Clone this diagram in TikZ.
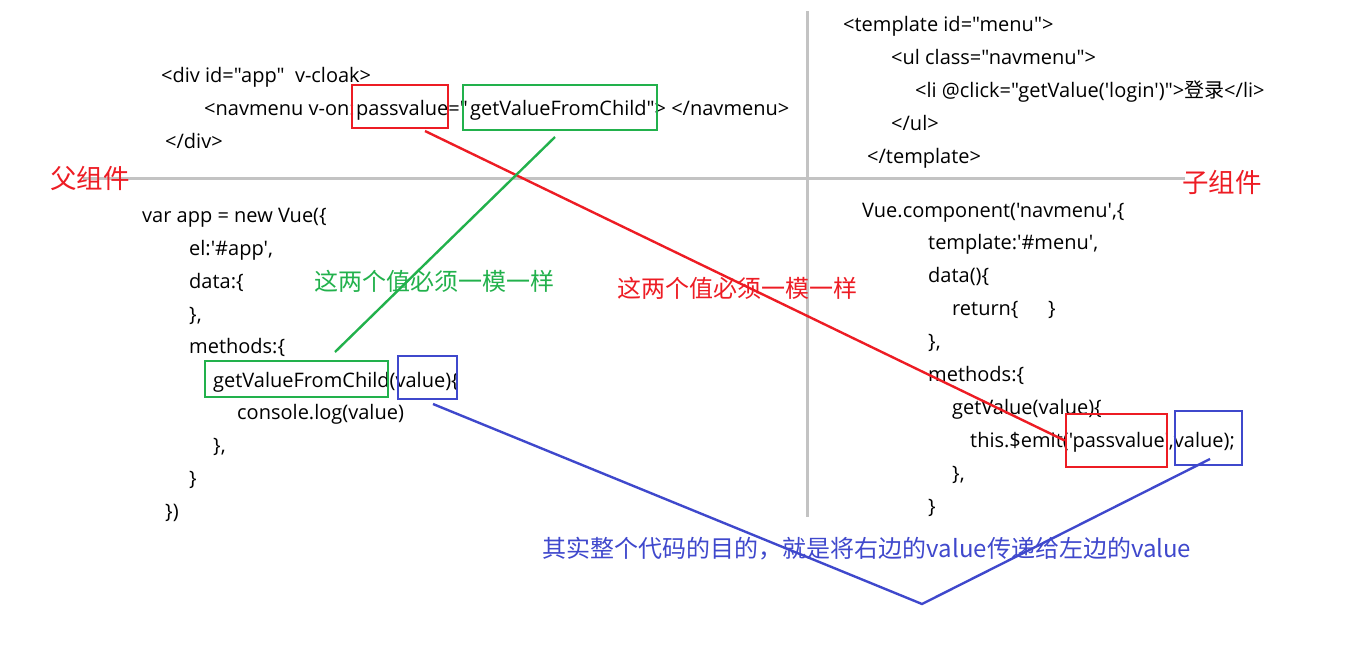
\documentclass[tikz,border=0pt]{standalone}
\usepackage{fontspec}
\newfontfamily\codefont{Open Sans}
\newfontfamily\cjk{Noto Sans CJK SC}
\definecolor{pred}{HTML}{ED1C24}
\definecolor{pgreen}{HTML}{22B14C}
\definecolor{pblue}{HTML}{3F48CC}
\definecolor{pgray}{HTML}{C3C3C3}
\begin{document}
\begin{tikzpicture}[x=1pt,y=-1pt,
  code/.style={anchor=base west,inner sep=0pt,font=\codefont\fontsize{20}{24}\selectfont},
  tag/.style={anchor=center,inner sep=0pt,font=\cjk\fontsize{24}{28}\selectfont},
  bigtag/.style={tag,font=\cjk\fontsize{26.5}{30}\selectfont},
  hbox/.style={draw,line width=2.6pt,minimum width=#1,inner sep=0pt},
  link/.style={line width=2.4pt},
  sep/.style={draw=pgray,line width=3pt}]
\useasboundingbox (0,0) rectangle (1360,656);
% separators
\coordinate (hl) at (83,178);
\coordinate (hr) at (1185,178);
\coordinate (vt) at (807,11);
\coordinate (vb) at (807,517);
\draw[sep] (hl) -- (hr);
\draw[sep] (vt) -- (vb);
% left code
\node[code] (l1) at (161,82) {<div id="app"\ \ v-cloak>};
\node[code] (l2a) at (204,115) {<navmenu v-on:};
\node[code] (l2b) at (356,115) {passvalue="};
\node[code] (l2c) at (470,115) {getValueFromChild"> </navmenu>};
\node[code] (l3) at (165,148) {</div>};
\node[code] (l4) at (142,222) {var app = new Vue(\{};
\node[code] (l5) at (189,255) {el:'\#app',};
\node[code] (l6) at (189,288) {data:\{};
\node[code] (l7) at (189,321) {\},};
\node[code] (l8) at (189,353) {methods:\{};
\node[code] (l9) at (213,387) {getValueFromChild(value)\{};
\node[code] (l10) at (237,419) {console.log(value)};
\node[code] (l11) at (213,452) {\},};
\node[code] (l12) at (189,485) {\}};
\node[code] (l13) at (165,518) {\})};
% right code
\node[code] (r1) at (843,31) {<template id="menu">};
\node[code] (r2) at (891,64) {<ul class="navmenu">};
\node[code] (r3) at (915,97) {<li @click="getValue('login')">{\cjk 登录}</li>};
\node[code] (r4) at (891,130) {</ul>};
\node[code] (r5) at (867,163) {</template>};
\node[code] (r6) at (862,217) {Vue.component('navmenu',\{};
\node[code] (r7) at (928,249) {template:'\#menu',};
\node[code] (r8) at (928,282) {data()\{};
\node[code] (r9) at (952,315) {return\{};
\node[code] (r9b) at (1048,315) {\}};
\node[code] (r10) at (928,348) {\},};
\node[code] (r11) at (928,381) {methods:\{};
\node[code] (r12) at (952,414) {getValue(value)\{};
\node[code] (r13) at (970,447) {this.\$emit('passvalue',value);};
\node[code] (r14) at (952,480) {\},};
\node[code] (r15) at (928,513) {\}};
% highlight boxes
\node[hbox=96pt,minimum height=43pt,draw=pred] (redT) at (400,106.5) {};
\node[hbox=194pt,minimum height=45pt,draw=pgreen] (greenT) at (560,107.5) {};
\node[hbox=183pt,minimum height=36pt,draw=pgreen] (greenL) at (296.5,379) {};
\node[hbox=59pt,minimum height=43pt,draw=pblue] (blueL) at (427.5,377.5) {};
\node[hbox=101pt,minimum height=53pt,draw=pred] (redR) at (1116.5,440.5) {};
\node[hbox=67pt,minimum height=54pt,draw=pblue] (blueR) at (1208.5,438) {};
% connectors
\coordinate (rs) at (425,131);
\coordinate (gs) at (555,137);
\coordinate (ge) at (335,352);
\coordinate (bs) at (433,404);
\coordinate (bv) at (922,604);
\coordinate (be) at (1210,459);
\draw[link,pred] (rs) -- (redR.west);
\draw[link,pgreen] (gs) -- (ge);
\draw[link,pblue] (bs) -- (bv) -- (be);
% labels
\node[bigtag,text=pred] (parent) at (90,178) {父组件};
\node[bigtag,text=pred] (child) at (1222,182) {子组件};
\node[tag,text=pgreen] (eqg) at (434,281) {这两个值必须一模一样};
\node[tag,text=pred] (eqr) at (737,288) {这两个值必须一模一样};
\node[tag,text=pblue] (purpose) at (867,549) {其实整个代码的目的，就是将右边的value传递给左边的value};
\end{tikzpicture}
\end{document}
